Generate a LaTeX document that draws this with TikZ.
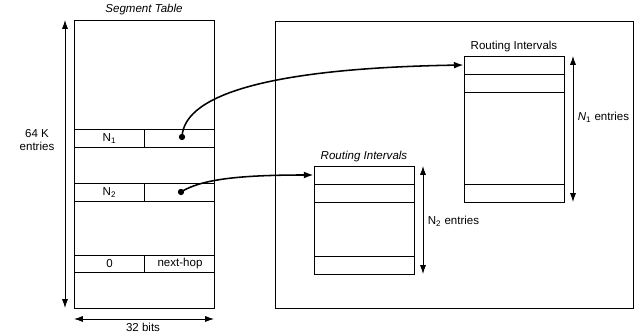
\documentclass[tikz,border=0pt]{standalone}
\usepackage{fontspec}
\setmainfont{Liberation Sans}
\usetikzlibrary{arrows.meta,positioning}

\tikzset{
  tab/.style={draw, inner sep=0pt},
  segrow/.style={draw, inner sep=0pt, minimum width=3.5cm, minimum height=0.44cm},
  rirow/.style={draw, inner sep=0pt, minimum width=2.5cm, minimum height=0.45cm},
  lbl/.style={inner sep=1pt},
  dim/.style={<->, >={Latex[length=2.2mm,width=1.5mm]}},
  link/.style={->, line width=1.1pt, >={Latex[length=2.4mm,width=1.7mm]}},
  ptr/.style={circle, fill, inner sep=0pt, minimum size=4.5pt}
}

\begin{document}
\begin{tikzpicture}[x=0.025cm, y=-0.025cm, semithick, font=\fontsize{8.2}{9.8}\selectfont]
   \useasboundingbox (0,0) rectangle (640,333);
   % segment table
   \node[tab, minimum width=3.5cm, minimum height=7.2cm] (segtab) at (144,164) {};
   \node[lbl, above=2pt of segtab] (segtitle) {\itshape Segment Table};
   \node[segrow] (row1) at (144,138.5) {};
   \node[segrow] (row2) at (144,192.5) {};
   \node[segrow] (row3) at (144,264) {};
   \draw (row1.north) -- (row1.south);
   \draw (row2.north) -- (row2.south);
   \draw (row3.north) -- (row3.south);
   \node[lbl] (n1)  at (109.5,138.5) {N\textsubscript{1}};
   \node[lbl] (n2)  at (109.5,192.5) {N\textsubscript{2}};
   \node[lbl] (zero) at (109.5,264) {0};
   \node[lbl] (nhop) at (180,264) {next-hop};
   \node[ptr] (ptr1) at (182,137) {};
   \node[ptr] (ptr2) at (181,192) {};
   % dimensions of the segment table
   \coordinate (ht-top) at (65,20);
   \coordinate (ht-bot) at (65,308);
   \draw[dim] (ht-top) -- (ht-bot);
   \node[lbl, align=center] (entries) at (37,140) {64 K\\entries};
   \coordinate (wd-l) at (74,319);
   \coordinate (wd-r) at (214,319);
   \draw[dim] (wd-l) -- (wd-r);
   \node[lbl] (bits) at (143,327) {32 bits};

   % memory area
   \node[tab, minimum width=8.95cm, minimum height=7.175cm] (mem) at (454,164.5) {};

   % routing intervals of N1
   \node[tab, minimum width=2.5cm, minimum height=3.65cm] (ri1) at (514,129) {};
   \node[lbl, above=1pt of ri1] (ri1title) {Routing Intervals};
   \node[rirow] (ri1a) at (514,65) {};
   \node[rirow] (ri1b) at (514,83) {};
   \node[rirow] (ri1z) at (514,193) {};
   \coordinate (n1-top) at (573,56);
   \coordinate (n1-bot) at (573,202);
   \draw[dim] (n1-top) -- (n1-bot);
   \node[lbl, anchor=west] (n1ent) at (576,117) {\textit{N}\textsubscript{1} entries};

   % routing intervals of N2
   \node[tab, minimum width=2.5cm, minimum height=2.7cm] (ri2) at (364,220) {};
   \node[lbl, above=1pt of ri2] (ri2title) {\itshape Routing Intervals};
   \node[rirow] (ri2a) at (364,175) {};
   \node[rirow] (ri2b) at (364,193) {};
   \node[rirow] (ri2z) at (364,265) {};
   \coordinate (n2-top) at (423,166);
   \coordinate (n2-bot) at (423,274);
   \draw[dim] (n2-top) -- (n2-bot);
   \node[lbl, anchor=west] (n2ent) at (426,221) {N\textsubscript{2} entries};

   % pointers
   \draw[link] (ptr1.center) .. controls (184,92) and (280,68) .. (ri1a.west);
   \draw[link] (ptr2.center) .. controls (200,180) and (235,175) .. (ri2a.west);
\end{tikzpicture}
\end{document}
